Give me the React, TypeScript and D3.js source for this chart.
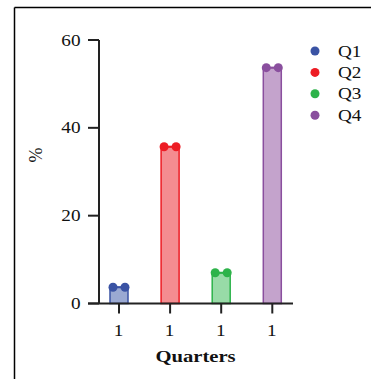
import React from "react";
import * as d3 from "d3";

const categories = ["Q1", "Q2", "Q3", "Q4"];
const values = [3.7, 35.7, 7.0, 53.7];
const tickLabels = ["1", "1", "1", "1"];
const yTicks = [0, 20, 40, 60];
const strokeColors = ["#3a53a4", "#ed1c24", "#2db34a", "#8a4f9e"];
const fillColors = ["#9aa9d2", "#f48c90", "#98dba7", "#c4a3cc"];

function SText({ x, y, sx = 1.2, anchor = "start", size = 16, weight = "normal", children }: any) {
  return (
    <g transform={`translate(${x},${y}) scale(${sx},1)`}>
      <text x={0} y={0} textAnchor={anchor} fontSize={size} fontWeight={weight} fill="#111">{children}</text>
    </g>
  );
}

export default function App() {
  const y = d3.scaleLinear().domain([0, 60]).range([303.5, 40]);
  const x = d3.scalePoint<string>().domain(categories).range([119, 272.3]);
  const barW = 18;
  const font = "'Liberation Serif', 'Times New Roman', serif";
  const axisX = 99;
  return (
    <svg width={371} height={379} style={{ position: "absolute", left: 0, top: 0 }} fontFamily={font}>
      <rect width={371} height={379} fill="#fff" />
      <line x1={14.5} y1={7.5} x2={371} y2={7.5} stroke="#000" strokeWidth={1.5} />
      <line x1={14.5} y1={7.5} x2={14.5} y2={379} stroke="#000" strokeWidth={1.5} />
      {/* bars */}
      {categories.map((c, i) => {
        const cx = x(c)!;
        const top = y(values[i]);
        return (
          <g key={c}>
            <rect x={cx - barW / 2} y={top} width={barW} height={y(0) - top} fill={fillColors[i]} stroke={strokeColors[i]} strokeWidth={1.5} />
            <line x1={cx - 6} x2={cx + 6} y1={top} y2={top} stroke={strokeColors[i]} strokeWidth={2} />
            <circle cx={cx - 6} cy={top} r={4.5} fill={strokeColors[i]} />
            <circle cx={cx + 6} cy={top} r={4.5} fill={strokeColors[i]} />
          </g>
        );
      })}
      {/* y axis */}
      <line x1={axisX} x2={axisX} y1={y(60)} y2={y(0)} stroke="#222" strokeWidth={2} />
      {yTicks.map((t) => (
        <g key={t}>
          <line x1={88} x2={axisX} y1={y(t)} y2={y(t)} stroke="#222" strokeWidth={2} />
          <SText x={80.5} y={y(t) + 5.5} anchor="end" size={16}>{t}</SText>
        </g>
      ))}
      {/* x axis */}
      <line x1={88} x2={293} y1={y(0)} y2={y(0)} stroke="#222" strokeWidth={2} />
      {categories.map((c, i) => (
        <g key={c}>
          <line x1={x(c)!} x2={x(c)!} y1={y(0)} y2={y(0) + 10} stroke="#222" strokeWidth={2} />
          <SText x={x(c)! - 0.5} y={335.5} anchor="middle" size={16}>{tickLabels[i]}</SText>
        </g>
      ))}
      <SText x={195.5} y={362} anchor="middle" size={16.5} weight="bold" sx={1.25}>Quarters</SText>
      <text transform={`translate(42,155) rotate(-90)`} textAnchor="middle" fontSize={18} fill="#111">%</text>
      {/* legend */}
      {categories.map((c, i) => (
        <g key={c}>
          <circle cx={315} cy={51 + i * 21.4} r={4.5} fill={strokeColors[i]} />
          <SText x={338} y={51 + i * 21.4 + 5.5} size={16}>{c}</SText>
        </g>
      ))}
    </svg>
  );
}
